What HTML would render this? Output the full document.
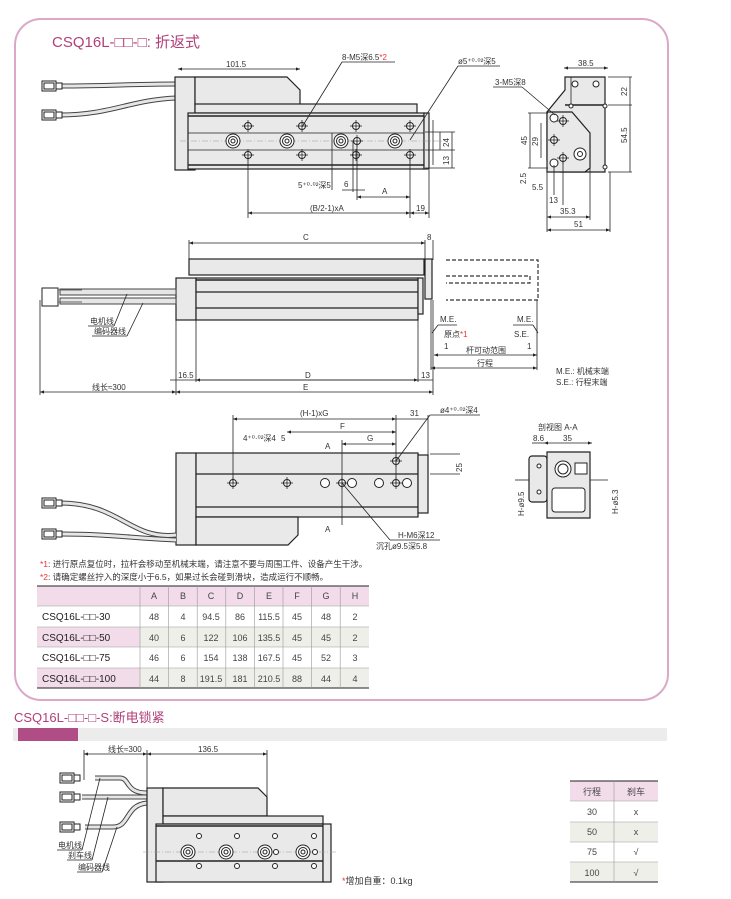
<!DOCTYPE html>
<html><head><meta charset="utf-8"><style>
body{margin:0;background:#fff;}
svg{display:block;font-family:"Liberation Sans","Noto Sans CJK SC",sans-serif;}
.d{stroke:#222;stroke-width:.8;fill:none}
.b{stroke:#222;stroke-width:1.2;fill:#e9e9e9}
.w{stroke:#222;stroke-width:1;fill:#fff}
.t{font-size:8px;fill:#333}
.c{stroke:#999;stroke-width:.6;stroke-dasharray:6 2 1 2}
.ds{stroke:#333;stroke-width:1.2;fill:none;stroke-dasharray:4 2}
.tb{font-size:9px;fill:#444}
</style></head><body>
<svg width="731" height="899" viewBox="0 0 731 899">
<defs>
<marker id="a" markerWidth="6" markerHeight="6" refX="5" refY="3" orient="auto-start-reverse"><path d="M0,1 L5,3 L0,5z" fill="#222"/></marker>
<g id="h"><circle r="3.5" class="w"/><line x1="-6" y1="0" x2="6" y2="0" class="d"/><line x1="0" y1="-6" x2="0" y2="6" class="d"/></g>
<g id="cb"><circle r="7" class="w"/><circle r="4.5" class="w"/><circle r="2" class="w"/></g>
<g id="sh"><circle r="3.5" class="w"/></g>
<g id="con"><rect x="0" y="-5" width="14" height="10" class="w"/><rect x="2" y="-3" width="10" height="6" class="w"/><rect x="14" y="-3" width="6" height="6" class="w"/></g>
</defs>
<!-- outer frame -->
<rect x="15" y="19" width="653" height="681" rx="26" fill="none" stroke="#dba8c8" stroke-width="2"/>
<text x="52" y="47" font-size="15" fill="#b0407a">CSQ16L-□□-□: 折返式</text>

<!-- ===== TOP VIEW ===== -->
<path d="M60,86 C110,86 130,84 176,84" stroke="#444" stroke-width="5" fill="none"/>
<path d="M60,86 C110,86 130,84 176,84" stroke="#e6e6e6" stroke-width="3" fill="none"/>
<path d="M60,115 C110,115 130,100 176,98" stroke="#444" stroke-width="5" fill="none"/>
<path d="M60,115 C110,115 130,100 176,98" stroke="#e6e6e6" stroke-width="3" fill="none"/>
<use href="#con" x="42" y="86"/><use href="#con" x="42" y="115"/>
<rect x="175" y="77" width="20" height="93" class="b"/>
<path d="M195,77 H287 L300,90 V105 H195z" class="b"/>
<rect x="195" y="104" width="222" height="9" class="b"/>
<rect x="188" y="113" width="236" height="56" class="b"/>
<rect x="424" y="113" width="5" height="56" class="b"/>
<line x1="188" y1="116" x2="424" y2="116" stroke="#222" stroke-width="1.5"/>
<line x1="188" y1="133" x2="424" y2="133" class="d"/><line x1="188" y1="150" x2="424" y2="150" class="d"/>
<line x1="188" y1="165" x2="424" y2="165" stroke="#222" stroke-width="1.5"/>
<line x1="180" y1="141" x2="445" y2="141" class="c"/>
<use href="#h" x="248" y="126"/><use href="#h" x="302" y="126"/><use href="#h" x="356" y="126"/><use href="#h" x="410" y="126"/>
<use href="#h" x="248" y="155"/><use href="#h" x="302" y="155"/><use href="#h" x="356" y="155"/><use href="#h" x="410" y="155"/>
<use href="#cb" x="233" y="141"/><use href="#cb" x="287" y="141"/><use href="#cb" x="341" y="141"/><use href="#cb" x="395" y="141"/>
<use href="#h" x="357" y="141"/>
<line x1="178" y1="69" x2="300" y2="69" class="d" marker-start="url(#a)" marker-end="url(#a)"/>
<text x="226" y="67" class="t">101.5</text>
<line x1="302" y1="127" x2="342" y2="62" class="d"/><line x1="342" y1="62" x2="395" y2="62" class="d"/>
<text x="342" y="60" class="t">8-M5深6.5<tspan fill="#e33">*2</tspan></text>
<line x1="410" y1="140" x2="458" y2="66" class="d"/><line x1="458" y1="66" x2="500" y2="66" class="d"/>
<text x="458" y="64" class="t">ø5⁺⁰·⁰²深5</text>
<line x1="433" y1="120" x2="433" y2="165" class="d"/><line x1="440" y1="132" x2="440" y2="150" class="d"/>
<line x1="425" y1="132" x2="455" y2="132" class="d"/><line x1="425" y1="150" x2="455" y2="150" class="d"/><line x1="425" y1="168" x2="455" y2="168" class="d"/>
<line x1="452" y1="132" x2="452" y2="168" class="d"/>
<text x="447" y="145" class="t" transform="rotate(-90 449 145)">24</text>
<text x="447" y="163" class="t" transform="rotate(-90 449 163)">13</text>
<line x1="248" y1="155" x2="248" y2="218" class="d"/><line x1="410" y1="155" x2="410" y2="218" class="d"/><line x1="429" y1="170" x2="429" y2="218" class="d"/>
<line x1="248" y1="213" x2="410" y2="213" class="d" marker-start="url(#a)" marker-end="url(#a)"/>
<line x1="410" y1="213" x2="429" y2="213" class="d" marker-start="url(#a)" marker-end="url(#a)"/>
<text x="310" y="211" class="t">(B/2-1)xA</text><text x="416" y="211" class="t">19</text>
<line x1="357" y1="141" x2="357" y2="200" class="d"/><line x1="357" y1="197" x2="410" y2="197" class="d" marker-start="url(#a)" marker-end="url(#a)"/>
<text x="382" y="194" class="t">A</text>
<line x1="353" y1="141" x2="353" y2="192" class="d"/><line x1="342" y1="190" x2="365" y2="190" class="d"/>
<text x="344" y="187" class="t">6</text>
<line x1="332" y1="133" x2="332" y2="190" class="d"/>
<text x="298" y="188" class="t">5⁺⁰·⁰²深5</text>

<!-- right end view -->
<path d="M570,77 H605 V172 H560 L547,160 V112 L565,90 V77z" class="b"/>
<line x1="565" y1="105" x2="605" y2="105" stroke="#222" stroke-width="1.5"/>
<line x1="571" y1="77" x2="571" y2="105" class="d"/>
<path d="M547,112 H572 L590,133 V168 L585,172 H547z" class="b"/>
<circle cx="575" cy="84" r="3" class="w"/><circle cx="596" cy="84" r="3" class="w"/>
<circle cx="554" cy="118" r="4" class="w"/><circle cx="554" cy="163" r="4" class="w"/>
<use href="#h" x="563" y="121"/><use href="#h" x="554" y="140"/><use href="#h" x="563" y="158"/>
<circle cx="580" cy="154" r="6" class="w"/><circle cx="580" cy="154" r="2.5" class="w"/>
<circle cx="571" cy="106" r="2" class="w"/><circle cx="605" cy="106" r="2" class="w"/><circle cx="605" cy="167" r="2" class="w"/>
<line x1="564" y1="68" x2="608" y2="68" class="d" marker-start="url(#a)" marker-end="url(#a)"/><text x="578" y="66" class="t">38.5</text>
<line x1="608" y1="77" x2="632" y2="77" class="d"/><line x1="608" y1="105" x2="632" y2="105" class="d"/><line x1="608" y1="172" x2="632" y2="172" class="d"/>
<line x1="630" y1="77" x2="630" y2="172" class="d"/>
<text x="622" y="95" class="t" transform="rotate(-90 625 93)">22</text>
<text x="622" y="142" class="t" transform="rotate(-90 625 140)">54.5</text>
<line x1="528" y1="113" x2="548" y2="113" class="d"/><line x1="528" y1="168" x2="548" y2="168" class="d"/>
<line x1="530" y1="113" x2="530" y2="168" class="d"/><line x1="541" y1="123" x2="541" y2="158" class="d"/>
<text x="522" y="144" class="t" transform="rotate(-90 525 142)">45</text>
<text x="532" y="144" class="t" transform="rotate(-90 536 142)">29</text>
<text x="520" y="182" class="t" transform="rotate(-90 524 180)">2.5</text>
<line x1="493" y1="87" x2="522" y2="87" class="d"/><line x1="522" y1="87" x2="555" y2="115" class="d"/>
<text x="495" y="85" class="t">3-M5深8</text>
<line x1="547" y1="170" x2="547" y2="232" class="d"/><line x1="554" y1="165" x2="554" y2="195" class="d"/><line x1="563" y1="160" x2="563" y2="205" class="d"/><line x1="590" y1="168" x2="590" y2="220" class="d"/><line x1="610" y1="172" x2="610" y2="232" class="d"/>
<text x="532" y="190" class="t">5.5</text><text x="549" y="203" class="t">13</text><text x="560" y="214" class="t">35.3</text>
<line x1="547" y1="217" x2="590" y2="217" class="d" marker-start="url(#a)" marker-end="url(#a)"/>
<line x1="547" y1="230" x2="610" y2="230" class="d" marker-start="url(#a)" marker-end="url(#a)"/><text x="574" y="227" class="t">51</text>

<!-- ===== SIDE VIEW ===== -->
<line x1="189" y1="243" x2="425" y2="243" class="d" marker-start="url(#a)" marker-end="url(#a)"/>
<text x="303" y="240" class="t">C</text><text x="427" y="240" class="t">8</text>
<line x1="189" y1="240" x2="189" y2="260" class="d"/><line x1="425" y1="240" x2="425" y2="260" class="d"/><line x1="433" y1="240" x2="433" y2="260" class="d"/>
<rect x="189" y="259" width="235" height="16" class="b"/>
<rect x="425" y="259" width="7" height="40" class="b"/>
<rect x="176" y="278" width="20" height="42" class="b"/>
<rect x="196" y="278" width="222" height="42" class="b"/>
<line x1="196" y1="280" x2="418" y2="280" stroke="#222" stroke-width="1.5"/>
<line x1="196" y1="292" x2="418" y2="292" stroke="#222" stroke-width="1.2"/>
<line x1="196" y1="308" x2="418" y2="308" stroke="#222" stroke-width="1.2"/>
<rect x="418" y="278" width="5" height="36" class="b"/>
<path d="M446,260 H538 V300 H446 M446,276 H530 V283 H446" class="ds"/>
<rect x="60" y="289" width="116" height="6" fill="#e6e6e6" stroke="#444"/>
<rect x="60" y="298" width="116" height="6" fill="#e6e6e6" stroke="#444"/>
<rect x="42" y="288" width="16" height="18" class="w"/><line x1="58" y1="290" x2="82" y2="290" stroke="#666"/><line x1="58" y1="302" x2="82" y2="302" stroke="#666"/>
<line x1="127" y1="294" x2="114" y2="326" class="d"/><line x1="88" y1="326" x2="114" y2="326" class="d"/>
<line x1="143" y1="303" x2="127" y2="336" class="d"/><line x1="92" y1="336" x2="127" y2="336" class="d"/>
<text x="90" y="324" class="t">电机线</text><text x="94" y="334" class="t">编码器线</text>
<line x1="176" y1="320" x2="176" y2="395" class="d"/><line x1="196" y1="320" x2="196" y2="382" class="d"/><line x1="418" y1="320" x2="418" y2="382" class="d"/><line x1="433" y1="300" x2="433" y2="395" class="d"/><line x1="40" y1="300" x2="40" y2="395" class="d"/>
<line x1="170" y1="380" x2="433" y2="380" class="d"/>
<line x1="196" y1="380" x2="418" y2="380" class="d" marker-start="url(#a)" marker-end="url(#a)"/>
<text x="178" y="378" class="t">16.5</text><text x="305" y="378" class="t">D</text><text x="421" y="378" class="t">13</text>
<line x1="40" y1="392" x2="176" y2="392" class="d" marker-start="url(#a)" marker-end="url(#a)"/>
<line x1="176" y1="392" x2="433" y2="392" class="d" marker-start="url(#a)" marker-end="url(#a)"/>
<text x="92" y="390" class="t">线长≈300</text><text x="303" y="390" class="t">E</text>
<line x1="431" y1="300" x2="431" y2="370" class="d"/><line x1="537" y1="300" x2="537" y2="370" class="d"/>
<line x1="431" y1="368" x2="537" y2="368" class="d" marker-start="url(#a)" marker-end="url(#a)"/>
<line x1="434" y1="355" x2="537" y2="355" class="d" marker-start="url(#a)" marker-end="url(#a)"/>
<text x="466" y="353" class="t">杆可动范围</text><text x="477" y="366" class="t">行程</text>
<text x="440" y="322" class="t">M.E.</text><text x="444" y="337" class="t">原点<tspan fill="#e33">*1</tspan></text><text x="444" y="349" class="t">1</text>
<text x="517" y="322" class="t">M.E.</text><text x="514" y="337" class="t">S.E.</text><text x="527" y="349" class="t">1</text>
<line x1="438" y1="325" x2="457" y2="325" class="d"/><line x1="438" y1="325" x2="432" y2="333" class="d"/>
<line x1="513" y1="325" x2="533" y2="325" class="d"/><line x1="533" y1="325" x2="538" y2="333" class="d"/>
<text x="556" y="374" class="t">M.E.: 机械末端</text><text x="556" y="385" class="t">S.E.: 行程末端</text>

<!-- ===== BOTTOM VIEW ===== -->
<rect x="176" y="453" width="20" height="92" class="b"/>
<rect x="196" y="453" width="222" height="64" class="b"/>
<path d="M196,517 H298 V535 L288,545 H196z" class="b"/>
<line x1="196" y1="474" x2="418" y2="474" stroke="#222" stroke-width="1.2"/>
<line x1="196" y1="507" x2="418" y2="507" stroke="#222" stroke-width="1.2"/>
<rect x="418" y="455" width="10" height="58" class="b"/>
<use href="#h" x="233" y="483"/><use href="#h" x="287" y="483"/><use href="#h" x="342" y="483"/><use href="#h" x="396" y="483"/>
<circle cx="325" cy="483" r="4.5" class="w"/><circle cx="352" cy="483" r="4.5" class="w"/><circle cx="379" cy="483" r="4.5" class="w"/><circle cx="407" cy="483" r="4.5" class="w"/>
<use href="#h" x="396" y="461"/>
<path d="M60,503 C120,503 130,540 176,535" stroke="#444" stroke-width="5" fill="none"/>
<path d="M60,503 C120,503 130,540 176,535" stroke="#e6e6e6" stroke-width="3" fill="none"/>
<path d="M60,534 C110,534 130,538 176,540" stroke="#444" stroke-width="5" fill="none"/>
<path d="M60,534 C110,534 130,538 176,540" stroke="#e6e6e6" stroke-width="3" fill="none"/>
<use href="#con" x="42" y="503"/><use href="#con" x="42" y="534"/>
<line x1="233" y1="415" x2="233" y2="483" class="d"/><line x1="396" y1="415" x2="396" y2="483" class="d"/><line x1="428" y1="415" x2="428" y2="455" class="d"/>
<line x1="233" y1="419" x2="396" y2="419" class="d" marker-start="url(#a)" marker-end="url(#a)"/>
<line x1="396" y1="419" x2="428" y2="419" class="d"/>
<text x="300" y="416" class="t">(H-1)xG</text><text x="410" y="416" class="t">31</text>
<line x1="287" y1="432" x2="396" y2="432" class="d" marker-start="url(#a)" marker-end="url(#a)"/><text x="340" y="429" class="t">F</text>
<line x1="342" y1="444" x2="396" y2="444" class="d" marker-start="url(#a)" marker-end="url(#a)"/><text x="367" y="441" class="t">G</text>
<line x1="342" y1="440" x2="342" y2="525" class="d"/>
<text x="325" y="449" class="t">A</text><text x="325" y="532" class="t">A</text>
<text x="243" y="441" class="t">4⁺⁰·⁰²深4</text><text x="281" y="441" class="t">5</text>
<line x1="396" y1="461" x2="430" y2="415" class="d"/><line x1="430" y1="415" x2="480" y2="415" class="d"/>
<text x="440" y="413" class="t">ø4⁺⁰·⁰²深4</text>
<line x1="342" y1="483" x2="390" y2="540" class="d"/><line x1="390" y1="540" x2="440" y2="540" class="d"/>
<text x="398" y="538" class="t">H-M6深12</text><text x="376" y="549" class="t">沉孔ø9.5深5.8</text>
<line x1="430" y1="454" x2="460" y2="454" class="d"/><line x1="430" y1="474" x2="460" y2="474" class="d"/>
<text x="452" y="470" class="t" transform="rotate(-90 458 466)">25</text>
<!-- Section A-A -->
<text x="538" y="430" class="t">剖视图 A-A</text>
<line x1="532" y1="443" x2="544" y2="443" class="d"/><line x1="544" y1="443" x2="592" y2="443" class="d" marker-start="url(#a)" marker-end="url(#a)"/>
<text x="533" y="441" class="t">8.6</text><text x="563" y="441" class="t">35</text>
<rect x="529" y="456" width="18" height="46" rx="3" class="b"/>
<path d="M547,452 H590 V518 H547z" class="b" rx="4"/>
<circle cx="563" cy="469" r="8" class="w"/><circle cx="563" cy="469" r="5" class="w"/>
<rect x="575" y="463" width="12" height="11" class="w"/>
<rect x="552" y="488" width="33" height="24" rx="3" class="w"/>
<circle cx="539" cy="466" r="2" class="w"/><circle cx="539" cy="492" r="2" class="w"/>
<line x1="515" y1="480" x2="529" y2="480" class="d"/><line x1="590" y1="480" x2="608" y2="480" class="d"/>
<text x="508" y="520" class="t" transform="rotate(-90 514 510)">H-ø9.5</text>
<text x="600" y="520" class="t" transform="rotate(-90 606 508)">H-ø5.3</text>

<!-- notes -->
<text x="40" y="567" font-size="8.5" fill="#333"><tspan fill="#e33">*1</tspan>: 进行原点复位时，拉杆会移动至机械末端，请注意不要与周围工件、设备产生干涉。</text>
<text x="40" y="580" font-size="8.5" fill="#333"><tspan fill="#e33">*2</tspan>: 请确定螺丝拧入的深度小于6.5，如果过长会碰到滑块，造成运行不顺畅。</text>
<!-- table -->
<g>
<rect x="37" y="586" width="332" height="20" fill="#f3dcea"/>
<rect x="37" y="627" width="103" height="20" fill="#f3dcea"/><rect x="140" y="627" width="229" height="20" fill="#efefe9"/>
<rect x="37" y="668" width="103" height="20" fill="#f3dcea"/><rect x="140" y="668" width="229" height="20" fill="#efefe9"/>
<g stroke="#222" stroke-width="1"><line x1="37" y1="586" x2="369" y2="586"/><line x1="37" y1="688" x2="369" y2="688"/></g>
<g stroke="#999" stroke-width=".6"><line x1="37" y1="606" x2="369" y2="606"/><line x1="37" y1="627" x2="369" y2="627"/><line x1="37" y1="647" x2="369" y2="647"/><line x1="37" y1="668" x2="369" y2="668"/>
<line x1="140" y1="586" x2="140" y2="688"/><line x1="168.6" y1="586" x2="168.6" y2="688"/><line x1="197.2" y1="586" x2="197.2" y2="688"/><line x1="225.8" y1="586" x2="225.8" y2="688"/><line x1="254.4" y1="586" x2="254.4" y2="688"/><line x1="283" y1="586" x2="283" y2="688"/><line x1="311.6" y1="586" x2="311.6" y2="688"/><line x1="340.2" y1="586" x2="340.2" y2="688"/></g>
<g class="tb" text-anchor="middle">
<text x="154" y="599">A</text><text x="183" y="599">B</text><text x="211" y="599">C</text><text x="240" y="599">D</text><text x="269" y="599">E</text><text x="297" y="599">F</text><text x="326" y="599">G</text><text x="355" y="599">H</text>
<text x="154" y="620">48</text><text x="183" y="620">4</text><text x="211" y="620">94.5</text><text x="240" y="620">86</text><text x="269" y="620">115.5</text><text x="297" y="620">45</text><text x="326" y="620">48</text><text x="355" y="620">2</text>
<text x="154" y="641">40</text><text x="183" y="641">6</text><text x="211" y="641">122</text><text x="240" y="641">106</text><text x="269" y="641">135.5</text><text x="297" y="641">45</text><text x="326" y="641">45</text><text x="355" y="641">2</text>
<text x="154" y="661">46</text><text x="183" y="661">6</text><text x="211" y="661">154</text><text x="240" y="661">138</text><text x="269" y="661">167.5</text><text x="297" y="661">45</text><text x="326" y="661">52</text><text x="355" y="661">3</text>
<text x="154" y="682">44</text><text x="183" y="682">8</text><text x="211" y="682">191.5</text><text x="240" y="682">181</text><text x="269" y="682">210.5</text><text x="297" y="682">88</text><text x="326" y="682">44</text><text x="355" y="682">4</text>
</g>
<g font-size="10" fill="#222"><text x="42" y="620">CSQ16L-□□-30</text><text x="42" y="641">CSQ16L-□□-50</text><text x="42" y="661">CSQ16L-□□-75</text><text x="42" y="682">CSQ16L-□□-100</text></g>
</g>

<!-- ===== BRAKE SECTION ===== -->
<text x="14" y="722" font-size="13" fill="#b0407a">CSQ16L-□□-□-S:断电锁紧</text>
<rect x="13" y="728" width="464" height="13" fill="#ececec"/>
<rect x="18" y="728" width="649" height="13" fill="#ececec"/>
<rect x="18" y="728" width="60" height="13" fill="#b04c86"/>
<line x1="84" y1="754" x2="147" y2="754" class="d" marker-start="url(#a)" marker-end="url(#a)"/>
<line x1="147" y1="754" x2="267" y2="754" class="d" marker-start="url(#a)" marker-end="url(#a)"/>
<line x1="84" y1="750" x2="84" y2="780" class="d"/><line x1="147" y1="750" x2="147" y2="880" class="d"/><line x1="267" y1="750" x2="267" y2="800" class="d"/>
<text x="108" y="752" class="t">线长≈300</text><text x="198" y="752" class="t">136.5</text>
<path d="M95,778 H120 C130,778 125,793 147,793" stroke="#444" stroke-width="5" fill="none"/><path d="M95,778 H120 C130,778 125,793 147,793" stroke="#e6e6e6" stroke-width="3" fill="none"/>
<path d="M82,797 H147" stroke="#444" stroke-width="5" fill="none"/><path d="M82,797 H147" stroke="#e6e6e6" stroke-width="3" fill="none"/>
<path d="M85,827 H113 C130,827 125,805 147,803" stroke="#444" stroke-width="5" fill="none"/><path d="M85,827 H113 C130,827 125,805 147,803" stroke="#e6e6e6" stroke-width="3" fill="none"/>
<use href="#con" x="60" y="778"/><use href="#con" x="60" y="797"/><use href="#con" x="60" y="827"/>
<rect x="147" y="788" width="16" height="94" class="b"/>
<path d="M163,788 H258 L267,797 V816 H163z" class="b"/>
<rect x="163" y="816" width="160" height="8" class="b"/>
<rect x="156" y="824" width="167" height="58" class="b"/>
<rect x="323" y="824" width="8" height="58" class="b"/>
<line x1="156" y1="826" x2="323" y2="826" stroke="#222" stroke-width="1.5"/>
<line x1="156" y1="861" x2="323" y2="861" stroke="#222" stroke-width="1.5"/>
<line x1="143" y1="852" x2="336" y2="852" class="c"/>
<circle cx="199" cy="836" r="2.5" class="w"/><circle cx="237" cy="836" r="2.5" class="w"/><circle cx="275" cy="836" r="2.5" class="w"/><circle cx="314" cy="836" r="2.5" class="w"/>
<circle cx="199" cy="866" r="2.5" class="w"/><circle cx="237" cy="866" r="2.5" class="w"/><circle cx="275" cy="866" r="2.5" class="w"/><circle cx="314" cy="866" r="2.5" class="w"/>
<use href="#cb" x="188" y="852"/><use href="#cb" x="226" y="852"/><use href="#cb" x="265" y="852"/><use href="#cb" x="303" y="852"/>
<circle cx="276" cy="852" r="2.5" class="w"/><circle cx="315" cy="852" r="2.5" class="w"/>
<line x1="100" y1="778" x2="82" y2="850" class="d"/><line x1="57" y1="850" x2="82" y2="850" class="d"/>
<line x1="108" y1="797" x2="92" y2="860" class="d"/><line x1="67" y1="860" x2="92" y2="860" class="d"/>
<line x1="117" y1="827" x2="102" y2="872" class="d"/><line x1="77" y1="872" x2="102" y2="872" class="d"/>
<text x="58" y="848" class="t">电机线</text><text x="68" y="858" class="t">刹车线</text><text x="78" y="870" class="t">编码器线</text>
<text x="342" y="884" font-size="9" fill="#333"><tspan fill="#e33">*</tspan>增加自重：0.1kg</text>
<!-- brake table -->
<rect x="570" y="781" width="88" height="20" fill="#f3dcea"/>
<rect x="570" y="822" width="88" height="20" fill="#efefe9"/><rect x="570" y="862" width="88" height="20" fill="#efefe9"/>
<g stroke="#222" stroke-width="1"><line x1="570" y1="781" x2="658" y2="781"/><line x1="570" y1="882" x2="658" y2="882"/></g>
<g stroke="#999" stroke-width=".6"><line x1="570" y1="801" x2="658" y2="801"/><line x1="570" y1="822" x2="658" y2="822"/><line x1="570" y1="842" x2="658" y2="842"/><line x1="570" y1="862" x2="658" y2="862"/><line x1="614" y1="781" x2="614" y2="882"/></g>
<g class="tb" text-anchor="middle"><text x="592" y="795">行程</text><text x="636" y="795">刹车</text>
<text x="592" y="815">30</text><text x="636" y="815">x</text><text x="592" y="835">50</text><text x="636" y="835">x</text>
<text x="592" y="855">75</text><text x="636" y="855">√</text><text x="592" y="876">100</text><text x="636" y="876">√</text></g>
</svg>
</body></html>
